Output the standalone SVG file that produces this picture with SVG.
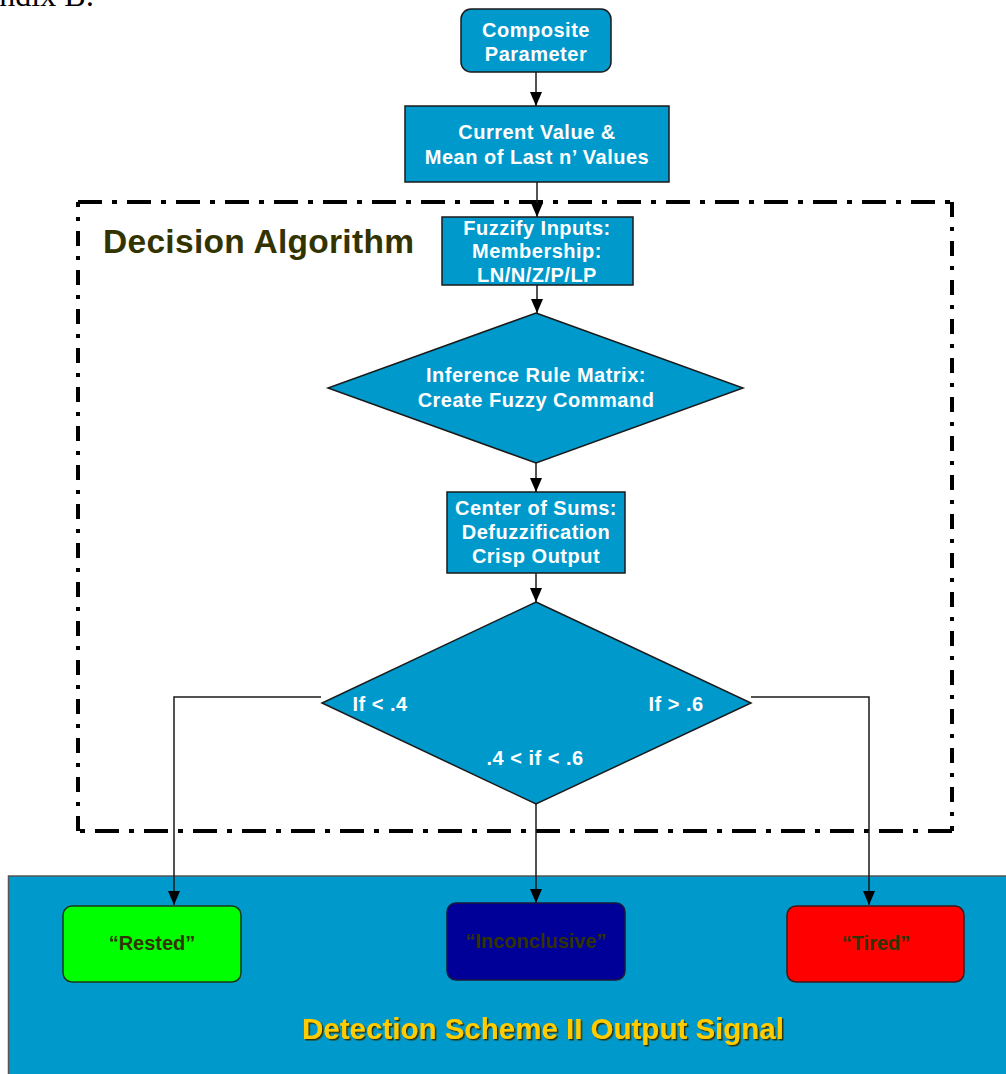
<svg xmlns="http://www.w3.org/2000/svg" width="1006" height="1074" viewBox="0 0 1006 1074">
  <defs>
    <style>
      .node { fill: #0099CC; stroke: #1a1a1a; stroke-width: 1.5; }
      .t { font-family: "Liberation Sans", Arial, sans-serif; font-weight: bold; font-size: 20px; fill: #ffffff; text-anchor: middle; letter-spacing: 0.5px; }
      .out { font-family: "Liberation Sans", Arial, sans-serif; font-weight: bold; font-size: 20px; fill: #333300; text-anchor: middle; }
      .conn { fill: none; stroke: #1a1a1a; stroke-width: 1.5; }
      .frame { fill: none; stroke: #000; stroke-width: 4; }
    </style>
    <marker id="arr" markerUnits="userSpaceOnUse" markerWidth="14" markerHeight="12" viewBox="0 0 14 12" refX="14" refY="6" orient="auto">
      <path d="M0,0 L14,6 L0,12 Z" fill="#000"/>
    </marker>
    <filter id="shadow" x="-5%" y="-20%" width="110%" height="150%">
      <feDropShadow dx="1.5" dy="1.5" stdDeviation="0" flood-color="#333300"/>
    </filter>
  </defs>

  <rect x="0" y="0" width="1006" height="1074" fill="#ffffff"/>

  <text x="-70" y="6" font-family="Liberation Serif, 'Times New Roman', serif" font-size="32" fill="#000">Appendix B:</text>

  <!-- Output panel -->
  <g id="output-panel">
    <rect x="8.5" y="876" width="1000" height="200" fill="#0099CC" stroke="#555" stroke-width="1.5"/>
    <text x="543" y="1039" font-family="Liberation Sans, Arial, sans-serif" font-weight="bold" font-size="29.5" fill="#FFCC00" text-anchor="middle" filter="url(#shadow)">Detection Scheme II Output Signal</text>
  </g>

  <!-- Decision algorithm frame -->
  <g id="decision-frame">
    <line class="frame" x1="78" y1="202" x2="952" y2="202" stroke-dasharray="24 10 5 10"/>
    <line class="frame" x1="952" y1="202" x2="952" y2="831" stroke-dasharray="15 10 4 10"/>
    <line class="frame" x1="952" y1="831" x2="78" y2="831" stroke-dasharray="24 10 5 10"/>
    <line class="frame" x1="78" y1="831" x2="78" y2="202" stroke-dasharray="15 10 4 10"/>
    <text x="103" y="253" font-family="Liberation Sans, Arial, sans-serif" font-weight="bold" font-size="33.5" letter-spacing="0.3" fill="#333300">Decision Algorithm</text>
  </g>

  <!-- Connectors -->
  <g id="connectors">
    <line class="conn" x1="536" y1="72" x2="536" y2="106" marker-end="url(#arr)"/>
    <line class="conn" x1="537" y1="182" x2="537" y2="217" marker-end="url(#arr)"/>
    <line class="conn" x1="537" y1="285" x2="537" y2="313" marker-end="url(#arr)"/>
    <line class="conn" x1="536" y1="463" x2="536" y2="492" marker-end="url(#arr)"/>
    <line class="conn" x1="536" y1="573" x2="536" y2="602" marker-end="url(#arr)"/>
    <polyline class="conn" points="321,697 174,697 174,905" marker-end="url(#arr)"/>
    <line class="conn" x1="536" y1="804" x2="536" y2="903" marker-end="url(#arr)"/>
    <polyline class="conn" points="751,697 869,697 869,905" marker-end="url(#arr)"/>
  </g>

  <g id="composite-parameter">
    <rect class="node" x="461" y="9" width="150" height="63" rx="10"/>
    <text class="t" x="536" y="37">Composite</text>
    <text class="t" x="536" y="61">Parameter</text>
  </g>

  <g id="current-value">
    <rect class="node" x="405" y="106" width="264" height="76"/>
    <text class="t" x="537" y="139">Current Value &amp;</text>
    <text class="t" x="537" y="164">Mean of Last n’ Values</text>
  </g>

  <g id="fuzzify">
    <rect class="node" x="442" y="217" width="191" height="68"/>
    <text class="t" x="537" y="235">Fuzzify Inputs:</text>
    <text class="t" x="537" y="258">Membership:</text>
    <text class="t" x="537" y="282">LN/N/Z/P/LP</text>
  </g>

  <g id="inference">
    <polygon class="node" points="536,313 743,388 536,463 328,388"/>
    <text class="t" x="536" y="382">Inference Rule Matrix:</text>
    <text class="t" x="536" y="407">Create Fuzzy Command</text>
  </g>

  <g id="center-of-sums">
    <rect class="node" x="447" y="492" width="178" height="81"/>
    <text class="t" x="536" y="515">Center of Sums:</text>
    <text class="t" x="536" y="539">Defuzzification</text>
    <text class="t" x="536" y="563">Crisp Output</text>
  </g>

  <g id="threshold">
    <polygon class="node" points="536,602 751,703 536,804 322,703"/>
    <text class="t" x="380" y="711">If &lt; .4</text>
    <text class="t" x="676" y="711">If &gt; .6</text>
    <text class="t" x="535" y="765">.4 &lt; if &lt; .6</text>
  </g>

  <g id="rested">
    <rect x="63" y="906" width="178" height="76" rx="9" fill="#00FF00" stroke="#1a3a1a" stroke-width="1.5"/>
    <text class="out" x="152" y="950">“Rested”</text>
  </g>

  <g id="inconclusive">
    <rect x="447" y="903" width="178" height="77" rx="9" fill="#000099" stroke="#1a1a3a" stroke-width="1.5"/>
    <text class="out" x="536" y="948">“Inconclusive”</text>
  </g>

  <g id="tired">
    <rect x="787" y="906" width="177" height="76" rx="9" fill="#FF0000" stroke="#3a1a1a" stroke-width="1.5"/>
    <text class="out" x="876" y="950">“Tired”</text>
  </g>
</svg>
